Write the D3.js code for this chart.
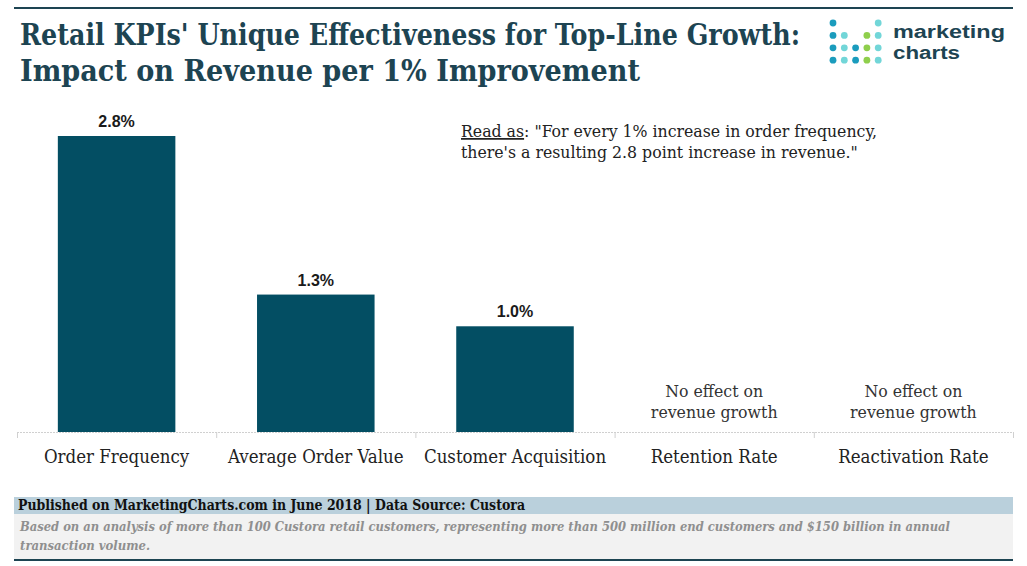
<!DOCTYPE html>
<html>
<head>
<meta charset="utf-8">
<script src="https://cdn.jsdelivr.net/npm/d3@7"></script>
<style>
  body { margin: 0; background: #fff; }
  svg { display: block; }
  .slab { font-family: "DejaVu Serif Condensed", "DejaVu Serif", serif; font-stretch: condensed; }
</style>
</head>
<body>
<div class="container"></div>
<script>
(function(d3) {
  "use strict";

  var categories = ["Order Frequency", "Average Order Value", "Customer Acquisition", "Retention Rate", "Reactivation Rate"];
  var values = [2.8, 1.3, 1.0, null, null];
  var valueLabels = ["2.8%", "1.3%", "1.0%", null, null];
  var noEffectLines = ["No effect on", "revenue growth"];

  var titleLines = [
    "Retail KPIs' Unique Effectiveness for Top-Line Growth:",
    "Impact on Revenue per 1% Improvement"
  ];
  var noteLines = [
    "\"For every 1% increase in order frequency,",
    "there's a resulting 2.8 point increase in revenue.\""
  ];
  var sourceText = "Published on MarketingCharts.com in June 2018 | Data Source: Custora";
  var footnoteLines = [
    "Based on an analysis of more than 100 Custora retail customers, representing more than 500 million end customers and $150 billion in annual",
    "transaction volume."
  ];

  // logo dots: [col, row, colour]
  var logoDots = [
    [0, 0, "#1a9cbd"], [4, 0, "#72d6d8"],
    [0, 1, "#1a9cbd"], [1, 1, "#72d6d8"], [3, 1, "#8fcf4c"], [4, 1, "#72d6d8"],
    [0, 2, "#1a9cbd"], [1, 2, "#72d6d8"], [2, 2, "#1a9cbd"], [3, 2, "#8fcf4c"], [4, 2, "#72d6d8"],
    [0, 3, "#1a9cbd"], [1, 3, "#72d6d8"], [2, 3, "#1a9cbd"], [3, 3, "#8fcf4c"], [4, 3, "#72d6d8"]
  ];
  var logoWords = ["marketing", "charts"];

  var width = 1027, height = 566;
  var dark = "#1d4452";
  var barColor = "#034e63";

  var svg = d3.select(".container").append("svg")
      .attr("width", width)
      .attr("height", height);

  // top rule
  svg.append("rect")
      .attr("x", 14).attr("y", 7)
      .attr("width", 999).attr("height", 2)
      .attr("fill", dark);

  // title
  svg.append("g")
      .attr("class", "title")
    .selectAll("text")
      .data(titleLines)
    .enter().append("text")
      .attr("class", "slab")
      .attr("x", 20)
      .attr("y", function(d, i) { return 45 + i * 36; })
      .attr("textLength", function(d, i) { return i === 0 ? 780 : 620; })
      .attr("lengthAdjust", "spacingAndGlyphs")
      .style("font-size", "30px")
      .style("font-weight", "bold")
      .attr("fill", dark)
      .text(function(d) { return d; });

  // logo
  var logo = svg.append("g").attr("transform", svgTranslateString(833, 23));
  logo.selectAll("circle")
      .data(logoDots)
    .enter().append("circle")
      .attr("cx", function(d) { return d[0] * 11.3; })
      .attr("cy", function(d) { return d[1] * 12.4; })
      .attr("r", 3.4)
      .attr("fill", function(d) { return d[2]; });
  logo.selectAll(".logo-word")
      .data(logoWords)
    .enter().append("text")
      .attr("class", "logo-word")
      .attr("x", 60)
      .attr("y", function(d, i) { return 15 + i * 21; })
      .attr("textLength", function(d, i) { return i === 0 ? 112 : 67; })
      .attr("lengthAdjust", "spacingAndGlyphs")
      .style("font-family", "'Liberation Sans', Arial, sans-serif")
      .style("font-weight", "bold")
      .style("font-size", "18px")
      .attr("fill", dark)
      .text(function(d) { return d; });

  // chart
  var x = d3.scaleBand()
      .domain(categories)
      .range([17, 1013])
      .paddingInner(0.41)
      .paddingOuter(0.205);

  var band = d3.scaleBand()
      .domain(categories)
      .range([17, 1013]);

  var y = d3.scaleLinear()
      .domain([0, 2.8])
      .range([432, 136]);

  var chart = svg.append("g").attr("class", "chart");

  // axis line (dotted) and ticks
  chart.append("line")
      .attr("x1", 17).attr("x2", 1013)
      .attr("y1", y(0) + 0.5).attr("y2", y(0) + 0.5)
      .attr("stroke", "#d0d0d0")
      .attr("stroke-dasharray", "2,1");

  chart.selectAll(".tick")
      .data(categories.concat([null]))
    .enter().append("line")
      .attr("class", "tick")
      .attr("x1", function(d) { return (d === null ? 1013 : band(d)) + 0.5; })
      .attr("x2", function(d) { return (d === null ? 1013 : band(d)) + 0.5; })
      .attr("y1", y(0)).attr("y2", y(0) + 6)
      .attr("stroke", "#d0d0d0");

  var withValue = categories.filter(function(d, i) { return values[i] !== null; });

  chart.selectAll(".bar")
      .data(withValue)
    .enter().append("rect")
      .attr("class", "bar")
      .attr("x", function(d) { return x(d); })
      .attr("width", x.bandwidth())
      .attr("y", function(d) { return y(values[categories.indexOf(d)]); })
      .attr("height", function(d) { return y(0) - y(values[categories.indexOf(d)]); })
      .attr("fill", barColor);

  chart.selectAll(".value")
      .data(withValue)
    .enter().append("text")
      .attr("class", "value")
      .attr("x", function(d) { return band(d) + band.bandwidth() / 2; })
      .attr("y", function(d) { return y(values[categories.indexOf(d)]) - 9; })
      .attr("text-anchor", "middle")
      .style("font-family", "'Liberation Sans', Arial, sans-serif")
      .style("font-weight", "bold")
      .style("font-size", "16px")
      .attr("fill", "#1a1a1a")
      .text(function(d) { return valueLabels[categories.indexOf(d)]; });

  var noEffect = categories.filter(function(d, i) { return values[i] === null; });
  chart.selectAll(".noeffect")
      .data(noEffect)
    .enter().append("text")
      .attr("class", "noeffect slab")
      .attr("x", function(d) { return band(d) + band.bandwidth() / 2; })
      .attr("y", 397)
      .attr("text-anchor", "middle")
      .style("font-size", "17.5px")
      .attr("fill", "#333")
    .selectAll("tspan")
      .data(noEffectLines)
    .enter().append("tspan")
      .attr("x", function() { var d = d3.select(this.parentNode).datum(); return band(d) + band.bandwidth() / 2; })
      .attr("dy", function(d, i) { return i === 0 ? 0 : 21; })
      .text(function(d) { return d; });

  chart.selectAll(".cat")
      .data(categories)
    .enter().append("text")
      .attr("class", "cat slab")
      .attr("x", function(d) { return band(d) + band.bandwidth() / 2; })
      .attr("y", 463)
      .attr("text-anchor", "middle")
      .style("font-size", "18.5px")
      .attr("fill", "#222")
      .text(function(d) { return d; });

  // "Read as" note
  var note = svg.append("text")
      .attr("class", "slab")
      .attr("x", 461).attr("y", 137)
      .style("font-size", "17.5px")
      .attr("fill", "#222");
  note.append("tspan")
      .style("text-decoration", "underline")
      .text("Read as");
  note.append("tspan").text(": " + noteLines[0]);
  svg.append("text")
      .attr("class", "slab")
      .attr("x", 461).attr("y", 158)
      .style("font-size", "17.5px")
      .attr("fill", "#222")
      .text(noteLines[1]);

  // footer
  svg.append("rect")
      .attr("x", 14).attr("y", 497)
      .attr("width", 999).attr("height", 17)
      .attr("fill", "#bad0dc");
  svg.append("rect")
      .attr("x", 14).attr("y", 514)
      .attr("width", 999).attr("height", 45)
      .attr("fill", "#f2f2f2");
  svg.append("rect")
      .attr("x", 14).attr("y", 559)
      .attr("width", 999).attr("height", 2)
      .attr("fill", dark);

  svg.append("text")
      .attr("class", "slab")
      .attr("x", 18).attr("y", 510)
      .attr("textLength", 507)
      .attr("lengthAdjust", "spacingAndGlyphs")
      .style("font-size", "14px")
      .style("font-weight", "bold")
      .attr("fill", "#111")
      .text(sourceText);

  svg.selectAll(".foot")
      .data(footnoteLines)
    .enter().append("text")
      .attr("class", "foot slab")
      .attr("x", 20)
      .attr("y", function(d, i) { return 531 + i * 19; })
      .attr("textLength", function(d, i) { return i === 0 ? 930 : 130; })
      .attr("lengthAdjust", "spacingAndGlyphs")
      .style("font-size", "13.5px")
      .style("font-style", "italic")
      .style("font-weight", "bold")
      .attr("fill", "#8f8f8f")
      .text(function(d) { return d; });

  function svgTranslateString(x, y) {
    return "translate(" + x + "," + y + ")";
  }

}(d3));
</script>
</body>
</html>
